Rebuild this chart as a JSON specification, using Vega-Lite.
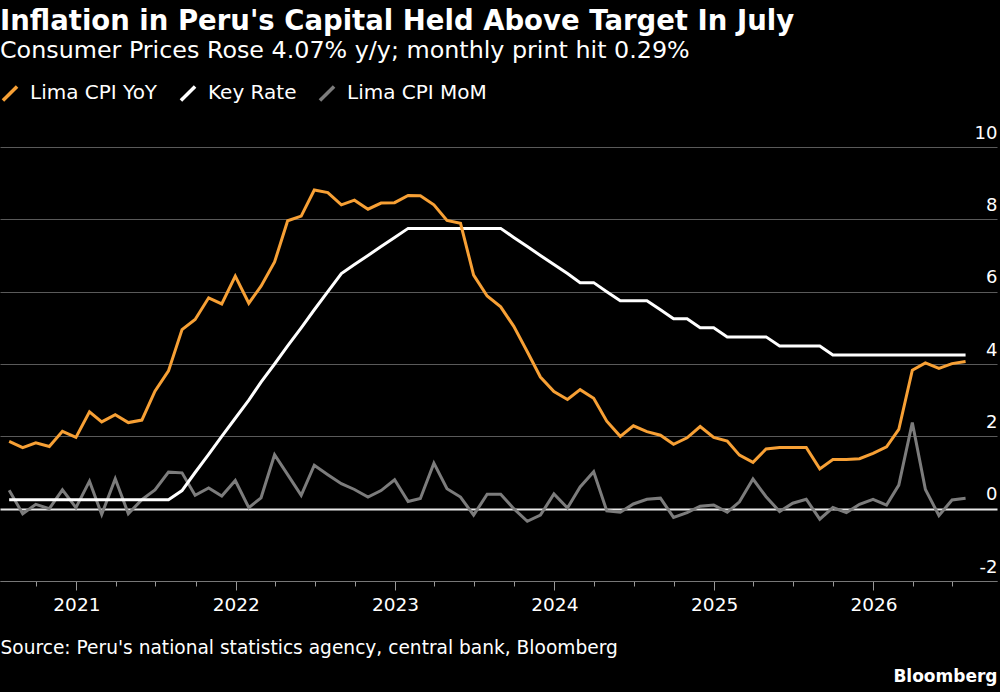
{
  "$schema": "https://vega.github.io/schema/vega-lite/v6.json",
  "width": 997,
  "height": 434,
  "autosize": {"type": "none"},
  "padding": {"top": 147, "left": 0, "right": 3, "bottom": 111},
  "background": "#000000",
  "config": {
    "view": {"stroke": null},
    "font": "DejaVu Sans",
    "axis": {"labelColor": "#ffffff", "titleColor": "#ffffff", "labelFont": "DejaVu Sans", "titleFont": "DejaVu Sans"},
    "legend": {"labelColor": "#ffffff", "labelFont": "DejaVu Sans"}
  },
  "title": {
    "text": "Inflation in Peru's Capital Held Above Target In July",
    "subtitle": "Consumer Prices Rose 4.07% y/y; monthly print hit 0.29%",
    "anchor": "start",
    "frame": "group",
    "color": "#ffffff",
    "fontSize": 27.5,
    "fontWeight": "bold",
    "subtitleColor": "#ffffff",
    "subtitleFontSize": 23.8,
    "subtitlePadding": 4,
    "offset": 20
  },
  "data": {
    "values": [
      {"d": "2020-07-31", "yoy": 1.86, "rate": 0.25, "mom": 0.51},
      {"d": "2020-08-31", "yoy": 1.69, "rate": 0.25, "mom": -0.14},
      {"d": "2020-09-30", "yoy": 1.82, "rate": 0.25, "mom": 0.12},
      {"d": "2020-10-31", "yoy": 1.72, "rate": 0.25, "mom": 0.0},
      {"d": "2020-11-30", "yoy": 2.14, "rate": 0.25, "mom": 0.52},
      {"d": "2020-12-31", "yoy": 1.97, "rate": 0.25, "mom": 0.03},
      {"d": "2021-01-31", "yoy": 2.68, "rate": 0.25, "mom": 0.76},
      {"d": "2021-02-28", "yoy": 2.40, "rate": 0.25, "mom": -0.16},
      {"d": "2021-03-31", "yoy": 2.60, "rate": 0.25, "mom": 0.83},
      {"d": "2021-04-30", "yoy": 2.38, "rate": 0.25, "mom": -0.14},
      {"d": "2021-05-31", "yoy": 2.45, "rate": 0.25, "mom": 0.25},
      {"d": "2021-06-30", "yoy": 3.25, "rate": 0.25, "mom": 0.52},
      {"d": "2021-07-31", "yoy": 3.81, "rate": 0.25, "mom": 1.01},
      {"d": "2021-08-31", "yoy": 4.95, "rate": 0.50, "mom": 0.99},
      {"d": "2021-09-30", "yoy": 5.23, "rate": 1.00, "mom": 0.37},
      {"d": "2021-10-31", "yoy": 5.83, "rate": 1.50, "mom": 0.57},
      {"d": "2021-11-30", "yoy": 5.66, "rate": 2.00, "mom": 0.35},
      {"d": "2021-12-31", "yoy": 6.43, "rate": 2.50, "mom": 0.78},
      {"d": "2022-01-31", "yoy": 5.68, "rate": 3.00, "mom": 0.03},
      {"d": "2022-02-28", "yoy": 6.15, "rate": 3.50, "mom": 0.30},
      {"d": "2022-03-31", "yoy": 6.82, "rate": 4.00, "mom": 1.49},
      {"d": "2022-04-30", "yoy": 7.96, "rate": 4.50, "mom": 0.94},
      {"d": "2022-05-31", "yoy": 8.09, "rate": 5.00, "mom": 0.37},
      {"d": "2022-06-30", "yoy": 8.81, "rate": 5.50, "mom": 1.20},
      {"d": "2022-07-31", "yoy": 8.74, "rate": 6.00, "mom": 0.94},
      {"d": "2022-08-31", "yoy": 8.40, "rate": 6.50, "mom": 0.69},
      {"d": "2022-09-30", "yoy": 8.53, "rate": 6.75, "mom": 0.53},
      {"d": "2022-10-31", "yoy": 8.28, "rate": 7.00, "mom": 0.32},
      {"d": "2022-11-30", "yoy": 8.45, "rate": 7.25, "mom": 0.50},
      {"d": "2022-12-31", "yoy": 8.46, "rate": 7.50, "mom": 0.80},
      {"d": "2023-01-31", "yoy": 8.66, "rate": 7.75, "mom": 0.20},
      {"d": "2023-02-28", "yoy": 8.65, "rate": 7.75, "mom": 0.28},
      {"d": "2023-03-31", "yoy": 8.40, "rate": 7.75, "mom": 1.26},
      {"d": "2023-04-30", "yoy": 7.97, "rate": 7.75, "mom": 0.55},
      {"d": "2023-05-31", "yoy": 7.89, "rate": 7.75, "mom": 0.32},
      {"d": "2023-06-30", "yoy": 6.46, "rate": 7.75, "mom": -0.18},
      {"d": "2023-07-31", "yoy": 5.88, "rate": 7.75, "mom": 0.40},
      {"d": "2023-08-31", "yoy": 5.58, "rate": 7.75, "mom": 0.40},
      {"d": "2023-09-30", "yoy": 5.04, "rate": 7.50, "mom": 0.0},
      {"d": "2023-10-31", "yoy": 4.34, "rate": 7.25, "mom": -0.35},
      {"d": "2023-11-30", "yoy": 3.64, "rate": 7.00, "mom": -0.18},
      {"d": "2023-12-31", "yoy": 3.24, "rate": 6.75, "mom": 0.41},
      {"d": "2024-01-31", "yoy": 3.02, "rate": 6.50, "mom": 0.02},
      {"d": "2024-02-29", "yoy": 3.29, "rate": 6.25, "mom": 0.60},
      {"d": "2024-03-31", "yoy": 3.05, "rate": 6.25, "mom": 1.02},
      {"d": "2024-04-30", "yoy": 2.42, "rate": 6.00, "mom": -0.06},
      {"d": "2024-05-31", "yoy": 2.00, "rate": 5.75, "mom": -0.10},
      {"d": "2024-06-30", "yoy": 2.29, "rate": 5.75, "mom": 0.13},
      {"d": "2024-07-31", "yoy": 2.13, "rate": 5.75, "mom": 0.26},
      {"d": "2024-08-31", "yoy": 2.03, "rate": 5.50, "mom": 0.29},
      {"d": "2024-09-30", "yoy": 1.78, "rate": 5.25, "mom": -0.24},
      {"d": "2024-10-31", "yoy": 1.96, "rate": 5.25, "mom": -0.11},
      {"d": "2024-11-30", "yoy": 2.27, "rate": 5.00, "mom": 0.07},
      {"d": "2024-12-31", "yoy": 1.97, "rate": 5.00, "mom": 0.10},
      {"d": "2025-01-31", "yoy": 1.87, "rate": 4.75, "mom": -0.10},
      {"d": "2025-02-28", "yoy": 1.48, "rate": 4.75, "mom": 0.19},
      {"d": "2025-03-31", "yoy": 1.28, "rate": 4.75, "mom": 0.82},
      {"d": "2025-04-30", "yoy": 1.65, "rate": 4.75, "mom": 0.33},
      {"d": "2025-05-31", "yoy": 1.69, "rate": 4.50, "mom": -0.08},
      {"d": "2025-06-30", "yoy": 1.69, "rate": 4.50, "mom": 0.15},
      {"d": "2025-07-31", "yoy": 1.69, "rate": 4.50, "mom": 0.26},
      {"d": "2025-08-31", "yoy": 1.10, "rate": 4.50, "mom": -0.29},
      {"d": "2025-09-30", "yoy": 1.36, "rate": 4.25, "mom": 0.03},
      {"d": "2025-10-31", "yoy": 1.36, "rate": 4.25, "mom": -0.11},
      {"d": "2025-11-30", "yoy": 1.38, "rate": 4.25, "mom": 0.12},
      {"d": "2025-12-31", "yoy": 1.53, "rate": 4.25, "mom": 0.26},
      {"d": "2026-01-31", "yoy": 1.71, "rate": 4.25, "mom": 0.10},
      {"d": "2026-02-28", "yoy": 2.19, "rate": 4.25, "mom": 0.65},
      {"d": "2026-03-31", "yoy": 3.83, "rate": 4.25, "mom": 2.38},
      {"d": "2026-04-30", "yoy": 4.03, "rate": 4.25, "mom": 0.53},
      {"d": "2026-05-31", "yoy": 3.88, "rate": 4.25, "mom": -0.19},
      {"d": "2026-06-30", "yoy": 4.01, "rate": 4.25, "mom": 0.24},
      {"d": "2026-07-31", "yoy": 4.07, "rate": 4.25, "mom": 0.29}
    ]
  },
  "transform": [
    {"fold": ["mom", "rate", "yoy"], "as": ["series", "value"]}
  ],
  "mark": {"type": "line", "strokeWidth": 3},
  "encoding": {
    "x": {
      "field": "d",
      "type": "temporal",
      "scale": {"domain": [{"year": 2020, "month": 7, "date": 10}, {"year": 2026, "month": 10, "date": 11}]},
      "axis": {
        "tickCount": {"interval": "month", "step": 3},
        "labelExpr": "month(datum.value) == 0 ? timeFormat(datum.value, '%Y') : ''",
        "labelOverlap": false,
        "labelFlush": false,
        "labelFontSize": 18.5,
        "labelPadding": 5,
        "grid": false,
        "domainColor": "#777777",
        "tickSize": {"condition": {"test": "month(datum.value) == 0", "value": 9}, "value": 5},
        "tickColor": {"condition": {"test": "datum.value > datetime(2026, 7, 15)", "value": "transparent"}, "value": "#999999"},
        "title": "Source: Peru's national statistics agency, central bank, Bloomberg",
        "titleFontSize": 18.6,
        "titleFontWeight": "normal",
        "titleAnchor": "start",
        "titleAlign": "left",
        "titleBaseline": "alphabetic",
        "titleX": 0,
        "titleY": 72
      }
    },
    "y": {
      "field": "value",
      "type": "quantitative",
      "scale": {"domain": [-2, 10]},
      "axis": {
        "orient": "right",
        "values": [-2, 0, 2, 4, 6, 8, 10],
        "labelExpr": "datum.value < 0 ? '-' + abs(datum.value) : '' + datum.value",
        "ticks": false,
        "domain": false,
        "labelAlign": "right",
        "labelBaseline": "alphabetic",
        "labelOffset": -9,
        "labelPadding": 0,
        "labelFontSize": 18,
        "gridColor": {"condition": {"test": "datum.value === 0", "value": "#e8e8e8"}, "value": "#5a5a5a"},
        "gridWidth": {"condition": {"test": "datum.value === 0", "value": 2}, "value": 1},
        "title": "Bloomberg",
        "titleAngle": 0,
        "titleAlign": "right",
        "titleBaseline": "alphabetic",
        "titleFontSize": 17,
        "titleFontWeight": "bold",
        "titleX": 0,
        "titleY": 534
      }
    },
    "color": {
      "field": "series",
      "type": "nominal",
      "scale": {"domain": ["yoy", "rate", "mom"], "range": ["#f7a035", "#ffffff", "#7c7c7c"]},
      "legend": {
        "orient": "none",
        "legendX": 0,
        "legendY": -64,
        "direction": "horizontal",
        "title": null,
        "symbolType": "M-1,1L1,-1",
        "symbolSize": 200,
        "symbolStrokeWidth": 3.5,
        "labelFontSize": 20,
        "labelOffset": 10,
        "columnPadding": 15,
        "labelExpr": "datum.value == 'yoy' ? 'Lima CPI YoY' : datum.value == 'rate' ? 'Key Rate' : 'Lima CPI MoM'"
      }
    }
  }
}
